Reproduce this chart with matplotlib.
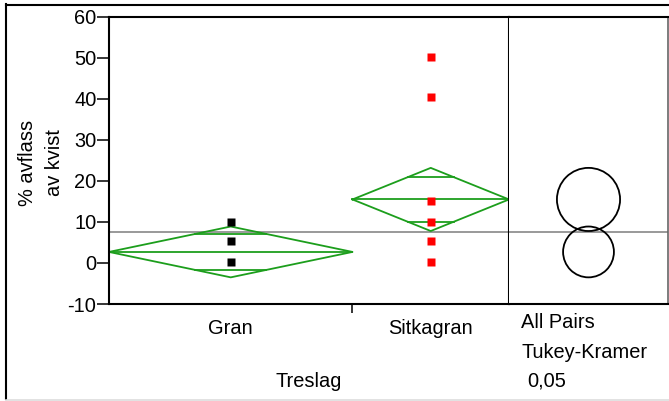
import numpy as np
import matplotlib.pyplot as plt
from matplotlib.patches import Circle
from matplotlib.lines import Line2D

plt.rcParams['font.family'] = ['Liberation Sans', 'DejaVu Sans']
plt.rcParams['font.size'] = 14.4
plt.rcParams['axes.unicode_minus'] = False

# data
groups = ['Gran', 'Sitkagran']
group_n = [14, 9]
group_means = [2.7, 15.5]
group_ci = [6.2, 7.7]          # half-height of the 95% means diamonds
gran_points = [10.1, 5.4, 0.3]
sitka_points = [50.2, 40.4, 15.1, 10.1, 5.4, 0.3]
point_colors = ['black', 'red']
grand_mean = 7.66
yticks = [-10, 0, 10, 20, 30, 40, 50, 60]

W, H = 669, 401
fig = plt.figure(figsize=(W / 100, H / 100), dpi=100)

left, mid, right = 109, 509, 668
top, bot = 17, 304
ax = fig.add_axes([left / W, 1 - bot / H, (mid - left) / W, (bot - top) / H])
ax2 = fig.add_axes([mid / W, 1 - bot / H, (right - mid) / W, (bot - top) / H])

green = '#1c9e1c'
edges = np.concatenate([[0], np.cumsum(group_n)]) / sum(group_n)
pts = [gran_points, sitka_points]
for i in range(len(groups)):
    x0, x1 = edges[i], edges[i + 1]
    xc = (x0 + x1) / 2
    m, h = group_means[i], group_ci[i]
    ax.plot([x0, xc, x1, xc, x0], [m, m + h, m, m - h, m], color=green, lw=1.3, zorder=2)
    ax.plot([x0, x1], [m, m], color=green, lw=1.3, zorder=2)
    f = 1 - 1 / np.sqrt(2)
    hw = (x1 - x0) / 2 * f
    for s in (1, -1):
        yy = m + s * h / np.sqrt(2)
        ax.plot([xc - hw, xc + hw], [yy, yy], color=green, lw=1.3, zorder=2)
    ax.plot([xc] * len(pts[i]), pts[i], 's', color=point_colors[i], ms=5.5, mec='none', zorder=4)
    ax.annotate(groups[i], xy=(xc, 0), xycoords=('data', 'axes fraction'),
                xytext=(0, -17.5), textcoords='offset points', ha='center', va='center')

ax.axhline(grand_mean, color='#888888', lw=1.2, zorder=1)
ax.set_xlim(0, 1)
ax.set_ylim(-10, 60)
ax.set_yticks(yticks)
ax.set_yticklabels([str(t) for t in yticks])
ax.set_xticks([edges[1]])
ax.set_xticklabels([''])
ax.tick_params(axis='y', direction='out', length=8.5, width=1.1, pad=0.5)
ax.tick_params(axis='x', direction='out', length=6.5, width=1.1)
for sp in ax.spines.values():
    sp.set_linewidth(1.5)
ax.annotate('Treslag', xy=(0.5, 0), xycoords='axes fraction', xytext=(0, -55.5),
            textcoords='offset points', ha='center', va='center')

fig.text(41 / W, 1 - 163 / H, '% avflass\nav kvist', rotation=90, ha='center', va='center',
         multialignment='center', linespacing=1.55)

# comparison circles panel
ppu = (bot - top) / 70.0
wu = (right - mid) / ppu
ax2.set_xlim(0, wu)
ax2.set_ylim(-10, 60)
ax2.axhline(grand_mean, color='#888888', lw=1.2, zorder=1)
for m, h in zip(group_means, group_ci):
    ax2.add_patch(Circle((wu / 2, m), h, fill=False, ec='black', lw=1.3))
ax2.set_xticks([])
ax2.set_yticks([])
for sp in ax2.spines.values():
    sp.set_linewidth(1.5)
ax2.spines['left'].set_visible(False)
ax2.spines['right'].set_color('#666666')
ax2.spines['right'].set_linewidth(1.2)

fig.text(521 / W, 1 - 323 / H, 'All Pairs', ha='left', va='center')
fig.text(521 / W, 1 - 353 / H, 'Tukey-Kramer', ha='left', va='center')
fig.text(527 / W, 1 - 381 / H, '0,05', ha='left', va='center')

# outer frame
fig.add_artist(Line2D([6 / W, 6 / W], [1 - 4 / H, 1 - 399 / H], color='black', lw=1.5))
fig.add_artist(Line2D([6 / W, 1], [1 - 4.5 / H, 1 - 4.5 / H], color='black', lw=1.5))
fig.add_artist(Line2D([6 / W, 1], [1 - 399.5 / H, 1 - 399.5 / H], color='#dddddd', lw=1.2))

fig.savefig('out.png', dpi=100)
